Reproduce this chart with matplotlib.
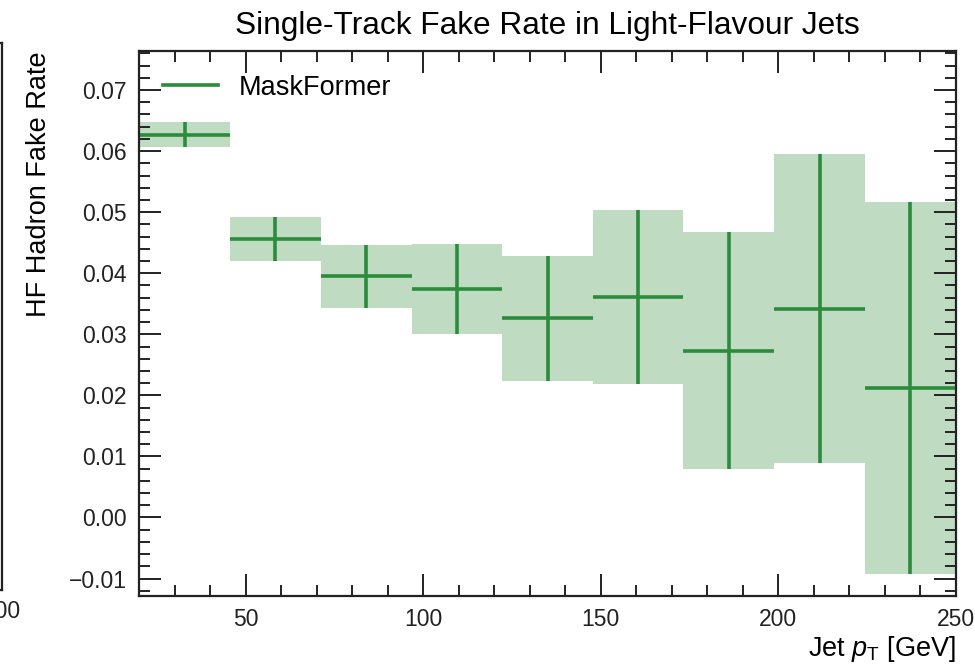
import numpy as np
import matplotlib
matplotlib.use("Agg")
import matplotlib.pyplot as plt
from matplotlib.lines import Line2D
from matplotlib.ticker import MultipleLocator, FuncFormatter

plt.rcParams["font.family"] = ["Liberation Sans", "DejaVu Sans"]
plt.rcParams["mathtext.fontset"] = "custom"
plt.rcParams["mathtext.rm"] = "Liberation Sans"
plt.rcParams["mathtext.it"] = "Liberation Sans:italic"

# Jet pT binning and per-bin fake rates with uncertainties
bin_edges = [20.0, 45.6, 71.1, 96.7, 122.2, 147.8, 173.3, 198.9, 224.4, 250.0]
fake_rate = [0.0627, 0.0456, 0.0395, 0.0374, 0.0326, 0.0361, 0.0273, 0.0342, 0.0212]
fake_rate_err = [0.0020, 0.0036, 0.0052, 0.0074, 0.0102, 0.0143, 0.0194, 0.0253, 0.0305]
series_label = "MaskFormer"

title = "Single-Track Fake Rate in Light-Flavour Jets"
xlabel = r"Jet $p_\mathrm{T}$ [GeV]"
ylabel = "HF Hadron Fake Rate"

color = "#2b8c3b"
TICK_FS = 16.5
LABEL_FS = 19.5
TITLE_FS = 22.8

edges = np.array(bin_edges)
centers = 0.5 * (edges[1:] + edges[:-1])
half_w = 0.5 * (edges[1:] - edges[:-1])
vals = np.array(fake_rate)
errs = np.array(fake_rate_err)

W, H = 975, 668
fig = plt.figure(figsize=(W / 100, H / 100), dpi=100)


def style_axes(ax):
    ax.tick_params(which="both", direction="in", top=True, right=True,
                   labelsize=TICK_FS, width=1.4, colors="#222222")
    ax.tick_params(which="major", length=16, pad=9)
    ax.tick_params(which="minor", length=8)
    for s in ax.spines.values():
        s.set_linewidth(1.6)
        s.set_color("#222222")


# Neighbouring panel (only its right edge is in frame)
ax0 = fig.add_axes([-0.8, 1 - 590 / H, 0.8 + 1.5 / W, (590 - 43) / H])
ax0.set_xlim(0, 200)
ax0.set_ylim(0, 1)
ax0.xaxis.set_major_locator(MultipleLocator(50))
ax0.set_yticks([])
style_axes(ax0)
ax0.tick_params(which="major", pad=7)

# Main panel
ax = fig.add_axes([139.3 / W, 1 - 595.6 / H, (955.7 - 139.3) / W, (595.6 - 51) / H])
ax.bar(centers, 2 * errs, bottom=vals - errs, width=2 * half_w,
       color=color, alpha=0.3, linewidth=0, align="center")
ax.errorbar(centers, vals, xerr=half_w, yerr=errs, fmt="none",
            ecolor=color, elinewidth=2.6, capsize=0)

ax.set_xlim(20, 250)
ax.set_ylim(-0.0128, 0.0764)
ax.xaxis.set_major_locator(MultipleLocator(50))
ax.xaxis.set_minor_locator(MultipleLocator(10))
ax.yaxis.set_major_locator(MultipleLocator(0.01))
ax.yaxis.set_minor_locator(MultipleLocator(0.002))
ax.yaxis.set_major_formatter(FuncFormatter(
    lambda v, p: f"{v:.2f}".replace("-", "\u2212")))
style_axes(ax)

ax.set_title(title, fontsize=TITLE_FS, pad=12)
ax.set_xlabel(xlabel, fontsize=LABEL_FS, loc="right", labelpad=2)
ax.set_ylabel(ylabel, fontsize=LABEL_FS, loc="top", labelpad=12)

handle = Line2D([], [], color=color, lw=2.6)
ax.legend([handle], [series_label], loc="upper left", frameon=False,
          fontsize=LABEL_FS, handlelength=2.05, handletextpad=0.77,
          borderpad=0.4, borderaxespad=0.47)

fig.savefig("out.png", dpi=100)
